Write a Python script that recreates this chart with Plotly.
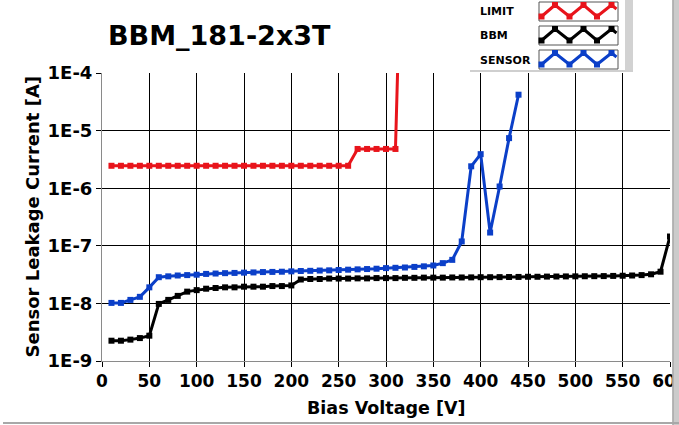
import plotly.graph_objects as go

# ---------------- data ----------------
limit_v = [10, 20, 30, 40, 50, 60, 70, 80, 90, 100, 110, 120, 130, 140, 150, 160, 170, 180,
           190, 200, 210, 220, 230, 240, 250, 260, 270, 280, 290, 300, 310, 313]
limit_i = [2.45e-6] * 26 + [4.8e-6] * 5 + [3e-4]

bbm_v = list(range(10, 601, 10))
bbm_i = [2.25e-9, 2.25e-9, 2.35e-9, 2.5e-9, 2.75e-9, 9.8e-9, 1.15e-8, 1.35e-8, 1.6e-8, 1.7e-8,
         1.8e-8, 1.85e-8, 1.9e-8, 1.9e-8, 1.95e-8, 1.95e-8, 1.95e-8, 2.0e-8, 2.0e-8, 2.05e-8,
         2.6e-8, 2.65e-8, 2.65e-8, 2.7e-8, 2.7e-8, 2.7e-8, 2.72e-8, 2.72e-8, 2.75e-8, 2.75e-8,
         2.75e-8, 2.78e-8, 2.78e-8, 2.8e-8, 2.8e-8, 2.8e-8, 2.82e-8, 2.82e-8, 2.83e-8, 2.85e-8,
         2.85e-8, 2.86e-8, 2.87e-8, 2.88e-8, 2.9e-8, 2.9e-8, 2.92e-8, 2.93e-8, 2.94e-8, 2.95e-8,
         2.96e-8, 2.97e-8, 2.98e-8, 3.0e-8, 3.02e-8, 3.05e-8, 3.1e-8, 3.2e-8, 3.55e-8, 1.45e-7]

sensor_v = list(range(10, 441, 10))
sensor_i = [1.02e-8, 1.02e-8, 1.15e-8, 1.3e-8, 1.9e-8, 2.85e-8, 2.95e-8, 3.05e-8, 3.1e-8, 3.15e-8,
            3.25e-8, 3.3e-8, 3.35e-8, 3.38e-8, 3.42e-8, 3.45e-8, 3.5e-8, 3.52e-8, 3.55e-8, 3.6e-8,
            3.65e-8, 3.68e-8, 3.72e-8, 3.75e-8, 3.8e-8, 3.85e-8, 3.9e-8, 3.95e-8, 4.0e-8, 4.1e-8,
            4.15e-8, 4.2e-8, 4.3e-8, 4.4e-8, 4.55e-8, 5.0e-8, 5.7e-8, 1.19e-7, 2.4e-6, 3.9e-6,
            1.7e-7, 1.07e-6, 7.4e-6, 4.2e-5]

x_ticks = list(range(0, 601, 50))
y_tickvals = [1e-9, 1e-8, 1e-7, 1e-6, 1e-5, 1e-4]
y_ticktext = ["1E-9", "1E-8", "1E-7", "1E-6", "1E-5", "1E-4"]

series_names = ["LIMIT", "BBM", "SENSOR"]
series_colors = ["#E8141B", "#000000", "#0B3FC8"]

# ---------------- layout geometry ----------------
W, H = 679, 425
L, R, T, B = 102, 9, 73, 64
PW, PH = W - L - R, H - T - B
FONT = "DejaVu Sans"


def px(X):
    return (X - L) / PW


def py(Y):
    return (H - B - Y) / PH


fig = go.Figure()
for name, xs, ys, col in [("LIMIT", limit_v, limit_i, series_colors[0]),
                          ("BBM", bbm_v, bbm_i, series_colors[1]),
                          ("SENSOR", sensor_v, sensor_i, series_colors[2])]:
    fig.add_trace(go.Scatter(x=xs, y=ys, name=name, mode="lines+markers",
                             line=dict(color=col, width=3),
                             marker=dict(symbol="square", size=6, color=col),
                             showlegend=False, cliponaxis=True))

shapes = []
annotations = []

# right grey frame strip and bottom frame line
shapes.append(dict(type="rect", xref="paper", yref="paper", x0=px(672.5), x1=px(682),
                   y0=py(430), y1=py(-5), fillcolor="#cbcbcb", line=dict(width=0), layer="above"))
shapes.append(dict(type="line", xref="paper", yref="paper", x0=px(673), x1=px(673),
                   y0=py(430), y1=py(-5), line=dict(color="#a8a8a8", width=1.5), layer="above"))
shapes.append(dict(type="line", xref="paper", yref="paper", x0=px(3), x1=px(680),
                   y0=py(423), y1=py(423), line=dict(color="#a8a8a8", width=2), layer="above"))

# custom legend panel
shapes.append(dict(type="rect", xref="paper", yref="paper", x0=px(625), x1=px(633),
                   y0=py(71), y1=py(-2), fillcolor="#d2d2d2", line=dict(width=0), layer="above"))
shapes.append(dict(type="line", xref="paper", yref="paper", x0=px(470), x1=px(633),
                   y0=py(71), y1=py(71), line=dict(color="#cfcfcf", width=2), layer="above"))

box_tops = [2, 26, 50]
zig_x = [541.5, 555, 569.5, 583.5, 597, 611.5]
for i, (name, col) in enumerate(zip(series_names, series_colors)):
    t = box_tops[i]
    shapes.append(dict(type="rect", xref="paper", yref="paper", x0=px(539), x1=px(618),
                       y0=py(t + 19), y1=py(t), fillcolor="white",
                       line=dict(color="#555555", width=1), layer="above"))
    zy = [t + 14.5, t + 3, t + 14.5, t + 3, t + 14.5, t + 3]
    pts = list(zip(zig_x, zy)) + [(616.5, t + 7)]
    path = "M " + " L ".join(f"{px(a)},{py(b)}" for a, b in pts)
    shapes.append(dict(type="path", xref="paper", yref="paper", path=path,
                       line=dict(color=col, width=3), layer="above"))
    for a, b in zip(zig_x, zy):
        shapes.append(dict(type="rect", xref="paper", yref="paper",
                           x0=px(a - 3), x1=px(a + 3), y0=py(b + 3), y1=py(b - 3),
                           fillcolor=col, line=dict(width=0), layer="above"))
    annotations.append(dict(text=name, xref="paper", yref="paper", x=px(478), y=py(t + 10),
                            xanchor="left", yanchor="middle", showarrow=False,
                            font=dict(family=FONT, size=11, color="black", weight="bold")))

# axis titles
annotations.append(dict(text="Bias Voltage [V]", xref="paper", yref="paper", x=0.5, y=py(408),
                        xanchor="center", yanchor="middle", showarrow=False,
                        font=dict(family=FONT, size=17.5, color="black", weight="bold")))
annotations.append(dict(text="Sensor Leakage Current [A]", xref="paper", yref="paper",
                        x=px(32), y=py(216.5), xanchor="center", yanchor="middle",
                        textangle=-90, showarrow=False,
                        font=dict(family=FONT, size=18, color="black", weight="bold")))

fig.update_layout(
    width=W, height=H, autosize=False,
    margin=dict(l=L, r=R, t=T, b=B, pad=0, autoexpand=False),
    paper_bgcolor="white", plot_bgcolor="white",
    title=dict(text="BBM_181-2x3T", x=108 / W, xref="container", xanchor="left",
               y=1 - 36 / H, yref="container", yanchor="middle",
               font=dict(family=FONT, size=27, color="black", weight="bold")),
    shapes=shapes, annotations=annotations, showlegend=False,
)
fig.update_xaxes(range=[0, 600], tickvals=x_ticks, ticktext=[str(v) for v in x_ticks],
                 showgrid=True, gridcolor="black", gridwidth=1, automargin=False,
                 showline=True, linecolor="#8a8a8a", linewidth=1, mirror=False,
                 ticks="outside", ticklen=5, tickcolor="black", zeroline=False,
                 ticklabeloverflow="allow",
                 tickfont=dict(family=FONT, size=17, color="black", weight="bold"))
fig.update_yaxes(type="log", range=[-9, -4], tickvals=y_tickvals, ticktext=y_ticktext,
                 showgrid=True, gridcolor="black", gridwidth=1, automargin=False,
                 showline=True, linecolor="#8a8a8a", linewidth=1, mirror=False,
                 ticks="outside", ticklen=5, tickcolor="black", zeroline=False,
                 ticklabeloverflow="allow",
                 tickfont=dict(family=FONT, size=18, color="black", weight="bold"))

fig.write_html("out.html", config={"displayModeBar": False},
               post_script="document.body.style.margin='0';document.body.style.overflow='hidden';")
